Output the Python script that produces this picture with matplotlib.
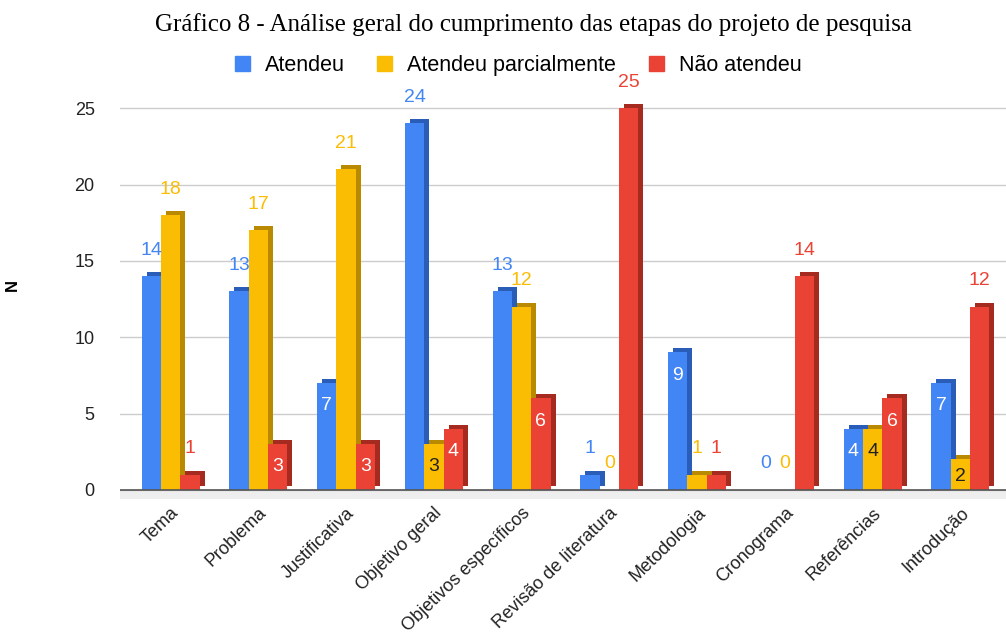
import matplotlib.pyplot as plt
import matplotlib.transforms as mtransforms
from matplotlib import font_manager
from matplotlib.font_manager import FontProperties
from matplotlib.patches import Patch
import numpy as np

etapas = ['Tema', 'Problema', 'Justificativa', 'Objetivo geral', 'Objetivos específicos',
          'Revisão de literatura', 'Metodologia', 'Cronograma', 'Referências', 'Introdução']
atendeu = [14, 13, 7, 24, 13, 1, 9, 0, 4, 7]
parcial = [18, 17, 21, 3, 12, 0, 1, 0, 4, 2]
nao_atendeu = [1, 3, 3, 4, 6, 25, 1, 14, 6, 12]

series = [
    ('Atendeu', atendeu, '#4285f4', '#2a5db8', 'white'),
    ('Atendeu parcialmente', parcial, '#fbbc04', '#b98a00', '#222222'),
    ('Não atendeu', nao_atendeu, '#ea4335', '#a52a20', 'white'),
]

plt.rcParams['font.family'] = ['Liberation Sans', 'DejaVu Sans']

# regular (not italic) serif face for the title
serif_path = None
for f in font_manager.fontManager.ttflist:
    if f.fname.endswith('LiberationSerif-Regular.ttf'):
        serif_path = f.fname
        break
if serif_path:
    title_font = FontProperties(fname=serif_path, size=18)
else:
    title_font = FontProperties(family='serif', style='normal', size=18)

fig = plt.figure(figsize=(10.06, 6.40), dpi=100)
ax = fig.add_axes([0.119, 0.2203, 0.888, 0.6703])

x = np.arange(len(etapas))
w = 0.22
shadow = mtransforms.offset_copy(ax.transData, fig=fig, x=5, y=4, units='dots')

for i, (nome, vals, cor, escura, cor_in) in enumerate(series):
    pos = x + (i - 1) * w
    ax.bar(pos, vals, w, color=escura, zorder=2, transform=shadow)
    ax.bar(pos, vals, w, color=cor, zorder=3)
    for px, v in zip(pos, vals):
        if 2 <= v <= 9:
            ax.text(px, max(v - 1.5, v * 0.45), str(v), ha='center', va='center',
                    color=cor_in, fontsize=14, zorder=5)
        else:
            ax.text(px, v + 1.7, str(v), ha='center', va='center',
                    color=cor, fontsize=14, zorder=5)

ax.axhspan(-0.6, 0, color='#eeeeee', zorder=0, lw=0)
ax.axhline(0, color='#555555', lw=1.2, zorder=4)

ax.set_xlim(-0.58, 9.6)
ax.set_ylim(-0.6, 27.5)
ax.set_yticks([0, 5, 10, 15, 20, 25])
ax.yaxis.grid(True, color='#cccccc', lw=1)
ax.set_axisbelow(True)
ax.tick_params(axis='y', length=0, pad=18, labelsize=13, labelcolor='#222222')
ax.tick_params(axis='x', length=0, pad=4, labelsize=13, labelcolor='#222222')
ax.set_xticks(x)
ax.set_xticklabels(etapas, rotation=44, ha='right', rotation_mode='anchor')
for s in ax.spines.values():
    s.set_visible(False)

fig.text(0.012, 0.555, 'N', rotation=90, fontsize=12, fontweight='bold',
         ha='center', va='center')
fig.text(0.53, 0.962, 'Gráfico 8 - Análise geral do cumprimento das etapas do projeto de pesquisa',
         fontproperties=title_font, ha='center', va='center')

handles = [Patch(color=c) for _, _, c, _, _ in series]
fig.legend(handles, [s[0] for s in series], loc='center', bbox_to_anchor=(0.515, 0.898),
           ncol=3, frameon=False, fontsize=15.5, handlelength=0.7, handleheight=0.7,
           columnspacing=1.5, handletextpad=0.7)

fig.savefig('out.png', dpi=100)
